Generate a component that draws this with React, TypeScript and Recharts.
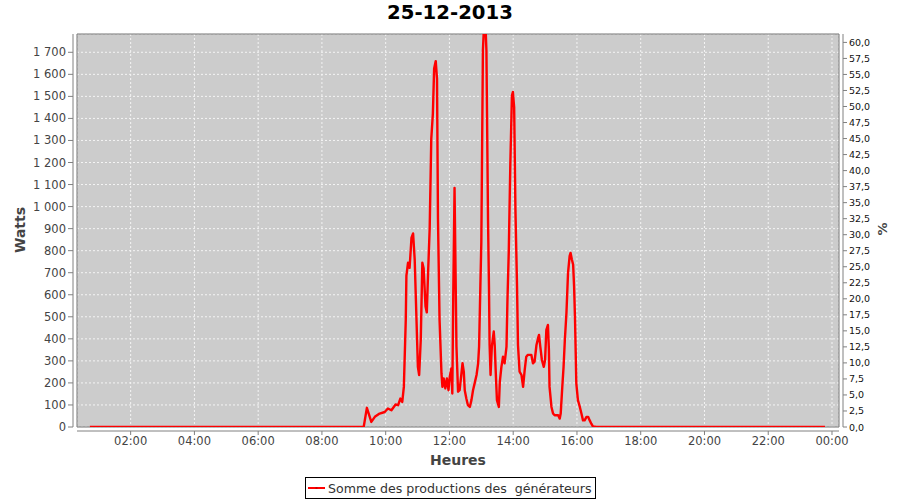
import React from 'react';
import { LineChart, Line, XAxis, YAxis, CartesianGrid, ReferenceArea, Legend } from 'recharts';

const chartTitle = '25-12-2013';
const seriesName = 'Somme des productions des  générateurs';
const xLabel = 'Heures';
const yLeftLabel = 'Watts';
const yRightLabel = '%';

const hourTicks = [2, 4, 6, 8, 10, 12, 14, 16, 18, 20, 22, 24];
const wattTicks = [0, 100, 200, 300, 400, 500, 600, 700, 800, 900, 1000, 1100, 1200, 1300, 1400, 1500, 1600, 1700];
const pctTicks = [0, 2.5, 5, 7.5, 10, 12.5, 15, 17.5, 20, 22.5, 25, 27.5, 30, 32.5, 35, 37.5, 40, 42.5, 45, 47.5, 50, 52.5, 55, 57.5, 60];

// time of day (decimal hours) and produced power (W)
const nightHours = [0.72, 1.0, 1.5, 2.0, 2.5, 3.0, 3.5, 4.0, 4.5, 5.0, 5.5, 6.0, 6.5, 7.0, 7.5, 8.0, 8.5, 9.0];
const nightWatts = [0, 0, 0, 0, 0, 0, 0, 0, 0, 0, 0, 0, 0, 0, 0, 0, 0, 0];

const dayHours = [
  9.25, 9.31, 9.41, 9.55, 9.66, 9.81, 9.97, 10.07, 10.18, 10.31, 10.39, 10.46, 10.52, 10.57, 10.63, 10.65,
  10.70, 10.75, 10.81, 10.86, 10.91, 10.96, 11.01, 11.05, 11.10, 11.15, 11.19, 11.25, 11.29, 11.33, 11.38,
  11.43, 11.48, 11.52, 11.57, 11.61, 11.64, 11.69, 11.75, 11.78, 11.82, 11.87, 11.92, 11.97, 12.01, 12.06,
  12.09, 12.12, 12.16, 12.22, 12.27, 12.32, 12.41, 12.45, 12.48, 12.53, 12.58, 12.64, 12.69, 12.74, 12.79,
  12.85, 12.90, 12.93, 12.97, 13.00, 13.05, 13.11, 13.16, 13.21, 13.24, 13.26, 13.29, 13.33, 13.39, 13.42,
  13.45, 13.49, 13.55, 13.58, 13.63, 13.68, 13.73, 13.79, 13.82, 13.86, 13.91, 13.96, 13.99, 14.03, 14.07,
  14.12, 14.15, 14.20, 14.26, 14.31, 14.36, 14.41, 14.46, 14.57, 14.62, 14.67, 14.73, 14.78, 14.81, 14.85,
  14.90, 14.96, 15.00, 15.04, 15.09, 15.12, 15.14, 15.20, 15.25, 15.30, 15.41, 15.46, 15.49, 15.54, 15.58,
  15.62, 15.67, 15.72, 15.77, 15.80, 15.84, 15.88, 15.91, 15.94, 15.98, 16.03, 16.09, 16.14, 16.19, 16.24,
  16.30, 16.35, 16.40, 16.45, 16.50, 16.61,
];
const dayWatts = [
  0, 0, 87, 23, 46, 61, 68, 84, 76, 102, 99, 129, 114, 182, 486, 687,
  745, 722, 859, 878, 760, 517, 273, 236, 395, 745, 720, 547, 520, 699, 900,
  1307, 1421, 1626, 1660, 1580, 950, 486, 243, 182, 220, 175, 220, 167, 228, 266,
  152, 600, 1085, 365, 160, 167, 289, 251, 167, 129, 99, 91, 122, 167, 198,
  236, 289, 365, 638, 836, 1709, 1900, 1709, 942, 638, 372, 236, 365, 433, 372,
  258, 122, 91, 205, 273, 319, 289, 365, 577, 790, 1193, 1504, 1520, 1450, 988,
  638, 372, 251, 236, 182, 258, 319, 327, 327, 289, 296, 372, 403, 418, 365,
  304, 273, 304, 441, 463, 350, 182, 91, 61, 53, 53, 38, 61, 182, 273,
  395, 517, 699, 775, 790, 760, 737, 638, 486, 198, 122, 91, 61, 30, 30,
  46, 46, 30, 15, 3, 0,
];

const eveningHours = [17.0, 17.5, 18.0, 18.5, 19.0, 19.5, 20.0, 20.5, 21.0, 21.5, 22.0, 22.5, 23.0, 23.5, 23.78];
const eveningWatts = [0, 0, 0, 0, 0, 0, 0, 0, 0, 0, 0, 0, 0, 0, 0];

const allHours = [...nightHours, ...dayHours, ...eveningHours];
const allWatts = [...nightWatts, ...dayWatts, ...eveningWatts];
const data = allHours.map((h, i) => ({ h, w: allWatts[i] }));

const X_MIN = 0.317;
const X_MAX = 24.22;
const W_MAX = 1783;
const P_MAX = 61.31;

const FONT = 'DejaVu Sans, Verdana, sans-serif';

const fmtWatt = (v: number) =>
  v >= 1000 ? `${Math.floor(v / 1000)} ${String(v % 1000).padStart(3, '0')}` : String(v);
const fmtPct = (v: number) => v.toFixed(1).replace('.', ',');
const fmtHour = (v: number) => `${String(v % 24).padStart(2, '0')}:00`;

const LeftTick = (p: any) => (
  <text x={p.x - 4} y={p.y} textAnchor="end" dominantBaseline="central" fontSize={11.5} fill="#444" fontFamily={FONT}>
    {fmtWatt(p.payload.value)}
  </text>
);
const RightTick = (p: any) => (
  <text x={p.x + 4} y={p.y} textAnchor="start" dominantBaseline="central" fontSize={9.5} fill="#111" fontFamily={FONT}>
    {fmtPct(p.payload.value)}
  </text>
);
const BottomTick = (p: any) => (
  <text x={p.x} y={p.y + 4} dy="0.71em" textAnchor="middle" fontSize={11.5} fill="#444" fontFamily={FONT}>
    {fmtHour(p.payload.value)}
  </text>
);

const LegendBox = () => (
  <div
    style={{
      display: 'flex',
      alignItems: 'center',
      border: '1px solid #000',
      width: 291,
      height: 22,
      boxSizing: 'border-box',
      background: '#fff',
      fontFamily: FONT,
    }}
  >
    <svg width={21} height={10} style={{ marginLeft: 1 }}>
      <line x1={1} y1={5} x2={18} y2={5} stroke="#ff0000" strokeWidth={2} />
      <rect x={8.5} y={4} width={2} height={2} fill="#cc0000" />
    </svg>
    <span style={{ fontSize: 12.6, whiteSpace: 'pre', color: '#333', marginLeft: 0 }}>{seriesName}</span>
  </div>
);

export default function App() {
  return (
    <div style={{ position: 'absolute', left: 0, top: 0, width: 900, height: 500, background: '#fff', fontFamily: FONT }}>
      <div
        style={{
          position: 'absolute', left: 0, top: 0, width: 900, textAlign: 'center',
          fontSize: 19.7, fontWeight: 'bold', lineHeight: '26px', color: '#000',
        }}
      >
        {chartTitle}
      </div>
      <LineChart width={900} height={500} data={data} margin={{ top: 34, right: 11, bottom: 43, left: 17 }}>
        <CartesianGrid
          yAxisId="left"
          fill="#cccccc"
          stroke="#f4f4f4"
          strokeDasharray="2 2"
          strokeWidth={1}
        />
        <XAxis
          dataKey="h"
          type="number"
          domain={[X_MIN, X_MAX]}
          ticks={hourTicks}
          interval={0}
          height={30}
          tickSize={4}
          tick={<BottomTick />}
          axisLine={{ stroke: '#808080', transform: 'translate(0,4)' }}
          tickLine={{ stroke: '#808080', transform: 'translate(0,4)' }}
        />
        <YAxis
          yAxisId="left"
          type="number"
          domain={[0, W_MAX]}
          ticks={wattTicks}
          allowDataOverflow
          interval={0}
          width={60}
          tickSize={5}
          tick={<LeftTick />}
          axisLine={{ stroke: '#808080', transform: 'translate(-4,0)' }}
          tickLine={{ stroke: '#808080', transform: 'translate(-4,0)' }}
        />
        <YAxis
          yAxisId="right"
          orientation="right"
          type="number"
          domain={[0, P_MAX]}
          ticks={pctTicks}
          allowDataOverflow
          interval={0}
          width={50}
          tickSize={4}
          tick={<RightTick />}
          axisLine={{ stroke: '#808080', transform: 'translate(4,0)' }}
          tickLine={{ stroke: '#808080', transform: 'translate(4,0)' }}
        />
        <ReferenceArea
          yAxisId="left"
          x1={X_MIN}
          x2={X_MAX}
          y1={0}
          y2={W_MAX}
          fill="none"
          fillOpacity={0}
          stroke="#777"
          strokeWidth={1}
          ifOverflow="visible"
        />
        <Line
          yAxisId="left"
          type="linear"
          dataKey="w"
          name={seriesName}
          stroke="#ff0000"
          strokeWidth={2.4}
          strokeLinejoin="round"
          dot={false}
          activeDot={false}
          isAnimationActive={false}
        />
        <Legend
          layout="horizontal"
          verticalAlign="middle"
          align="center"
          content={<LegendBox />}
          wrapperStyle={{ position: 'absolute', left: 305, top: 477, width: 'auto', height: 'auto' }}
        />
      </LineChart>
      <div
        style={{
          position: 'absolute', left: 77, top: 452, width: 762, textAlign: 'center',
          fontSize: 14, fontWeight: 'bold', lineHeight: '16px', color: '#444',
        }}
      >
        {xLabel}
      </div>
      <div
        style={{
          position: 'absolute', left: 20, top: 230, transform: 'translate(-50%,-50%) rotate(-90deg)',
          fontSize: 14, fontWeight: 'bold', lineHeight: '16px', color: '#444', whiteSpace: 'nowrap',
        }}
      >
        {yLeftLabel}
      </div>
      <div
        style={{
          position: 'absolute', left: 883, top: 229, transform: 'translate(-50%,-50%) rotate(-90deg)',
          fontSize: 13, fontWeight: 'bold', lineHeight: '16px', color: '#444', whiteSpace: 'nowrap',
        }}
      >
        {yRightLabel}
      </div>
    </div>
  );
}
